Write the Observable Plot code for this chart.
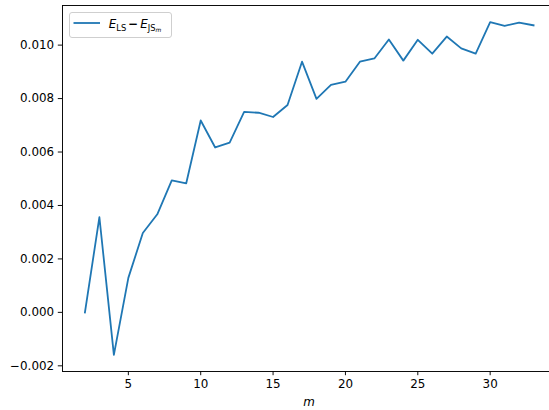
<!DOCTYPE html>
<html>
<head>
<meta charset="utf-8">
<script src="https://cdn.jsdelivr.net/npm/d3@7"></script>
<script src="https://cdn.jsdelivr.net/npm/@observablehq/plot@0.6"></script>
<style>
  html, body { margin: 0; padding: 0; background: #fff; }
  #chart svg { display: block; }
</style>
</head>
<body>
<div id="chart"></div>
<script>
// m values and E_LS - E_JS_m differences
const mValues = [2,3,4,5,6,7,8,9,10,11,12,13,14,15,16,17,18,19,20,21,22,23,24,25,26,27,28,29,30,31,32,33];
const diffValues = [0.0000,0.00356,-0.00159,0.00129,0.00297,0.00367,0.00494,0.00483,0.00718,0.00617,0.00635,0.00750,0.00747,0.00731,0.00776,0.00938,
  0.00799,0.00851,0.00863,0.00938,0.00950,0.01021,0.00942,0.01020,0.00968,0.01032,0.00988,0.00968,0.01086,0.01072,0.01084,0.01074];
const xTicks = [5,10,15,20,25,30];
const yTicks = [-0.002,0,0.002,0.004,0.006,0.008,0.010];

const data = mValues.map((m, i) => ({m, v: diffValues[i]}));

const xMin = d3.min(mValues), xMax = d3.max(mValues);
const xPad = (xMax - xMin) * 0.05;
const yMin = d3.min(diffValues), yMax = d3.max(diffValues);
const yPad = (yMax - yMin) * 0.05;
const xDomain = [xMin - xPad, 34.1];
const yDomain = [yMin - yPad, yMax + yPad];

const FONT = "DejaVu Sans";
const FS = 11.9;
const BLUE = "#1f77b4";

const chart = Plot.plot({
  width: 549,
  height: 410,
  marginLeft: 62,
  marginRight: 0,
  marginTop: 5,
  marginBottom: 39,
  style: {fontFamily: FONT, fontSize: FS + "px", color: "#000", background: "#fff", overflow: "hidden"},
  x: {domain: xDomain, label: null},
  y: {domain: yDomain, label: null},
  marks: [
    Plot.axisX({ticks: xTicks, tickSize: 4.2, tickPadding: 3.6, strokeWidth: 0.95, fontSize: FS, tickFormat: d3.format("d"), label: null}),
    Plot.axisY({ticks: yTicks, tickSize: 4.2, tickPadding: 4.2, strokeWidth: 0.95, fontSize: FS, tickFormat: d3.format(".3f"), label: null}),
    Plot.line(data, {x: "m", y: "v", stroke: BLUE, strokeWidth: 1.8, strokeLinejoin: "round", strokeLinecap: "square"}),
    Plot.ruleX([xDomain[0]], {stroke: "#000", strokeWidth: 0.95}),
    Plot.ruleY([yDomain[0], yDomain[1]], {stroke: "#000", strokeWidth: 0.95})
  ]
});

document.getElementById("chart").appendChild(chart);

const svg = d3.select(chart);
// x-axis label
svg.append("text")
  .attr("x", 309).attr("y", 405.5)
  .attr("text-anchor", "middle")
  .attr("font-family", FONT).attr("font-size", FS).attr("font-style", "italic")
  .attr("fill", "#000")
  .text("m");

// legend
const lg = svg.append("g").attr("text-anchor", "start");
lg.append("rect")
  .attr("x", 69.5).attr("y", 12.5).attr("width", 102).attr("height", 25)
  .attr("rx", 2.5).attr("ry", 2.5)
  .attr("fill", "#fff").attr("fill-opacity", 0.8)
  .attr("stroke", "#cccccc").attr("stroke-width", 0.95);
lg.append("line")
  .attr("x1", 73.5).attr("x2", 100).attr("y1", 23).attr("y2", 23)
  .attr("stroke", BLUE).attr("stroke-width", 1.8);
const t = lg.append("text")
  .attr("x", 108.8).attr("y", 28.3)
  .attr("text-anchor", "start")
  .attr("font-family", FONT).attr("font-size", FS).attr("fill", "#000");
t.append("tspan").attr("font-style", "italic").text("E");
t.append("tspan").attr("font-size", FS * 0.7).attr("dy", 2.2).text("LS");
t.append("tspan").attr("dy", -2.2).attr("dx", 2).attr("font-weight", "bold").text("\u2212");
t.append("tspan").attr("dx", 2).attr("font-style", "italic").text("E");
t.append("tspan").attr("font-size", FS * 0.7).attr("dy", 2.2).text("JS");
t.append("tspan").attr("font-size", FS * 0.5).attr("font-style", "italic").attr("dy", 1.6).text("m");
</script>
</body>
</html>
